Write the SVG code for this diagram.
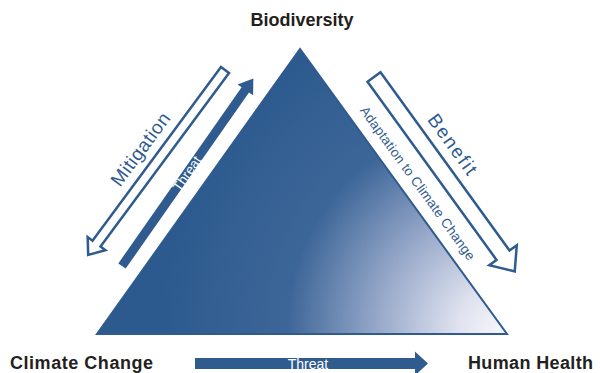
<svg xmlns="http://www.w3.org/2000/svg" width="600" height="373" viewBox="0 0 600 373">
  <defs>
    <radialGradient id="triGrad" gradientUnits="userSpaceOnUse" cx="498" cy="330" r="340">
      <stop offset="0" stop-color="#f4f4fa"/>
      <stop offset="0.12" stop-color="#dfe2ef"/>
      <stop offset="0.35" stop-color="#98a9ca"/>
      <stop offset="0.62" stop-color="#3d6698"/>
      <stop offset="1" stop-color="#2c5a8e"/>
    </radialGradient>
  </defs>
  <style>
    .label { font-family: "Liberation Sans", Arial, sans-serif; font-weight: bold; font-size: 18px; fill: #231f20; }
    .blue { font-family: "Liberation Sans", Arial, sans-serif; fill: #2f5b8f; }
    .white { font-family: "Liberation Sans", Arial, sans-serif; fill: #ffffff; }
    .hollow { fill: #ffffff; stroke: #2f5b8f; stroke-width: 2.5; stroke-linejoin: miter; }
    .solid { fill: #2f5b8f; stroke: none; }
  </style>
  <rect width="600" height="373" fill="#ffffff"/>

  <g id="triangle">
    <polygon points="300,49 97,334 507,334" fill="url(#triGrad)" stroke="#2f5b8f" stroke-width="2"/>
  </g>

  <g id="connectors">
    <g id="mitigation-arrow" transform="translate(225,70) rotate(126.5)">
      <path class="hollow" d="M0,-5 L216,-5 L216,-11 L230,0 L216,11 L216,5 L0,5 Z"/>
    </g>
    <g id="threat-diag-arrow" transform="translate(122,266) rotate(-55)">
      <path class="solid" d="M0,-4.5 L215,-4.5 L215,-9.5 L229,0 L215,9.5 L215,4.5 L0,4.5 Z"/>
      <text class="white" x="113" y="4.8" font-size="13.5" text-anchor="middle">Threat</text>
    </g>
    <g id="benefit-arrow" transform="translate(374,77) rotate(54.1)">
      <path class="hollow" d="M0,-8 L220,-8 L220,-17 L240,0 L220,17 L220,8 L0,8 Z"/>
    </g>
    <g id="threat-bottom-arrow">
      <path class="solid" d="M195,358 H415 V351.5 L428,363.5 L415,375.5 V369 H195 Z"/>
      <text class="white" x="308" y="369" font-size="14" text-anchor="middle">Threat</text>
    </g>
  </g>

  <g id="mitigation-label" transform="translate(140,149) rotate(-53.5)">
    <text class="blue" x="0" y="7" font-size="19" text-anchor="middle" textLength="86">Mitigation</text>
  </g>
  <g id="benefit-label" transform="translate(453,144) rotate(54.1)">
    <text class="blue" x="0" y="7" font-size="19" text-anchor="middle" textLength="70">Benefit</text>
  </g>
  <g id="adaptation-label" transform="translate(418,183) rotate(54.1)">
    <text class="blue" x="0" y="5" font-size="13.5" text-anchor="middle" textLength="186">Adaptation to Climate Change</text>
  </g>

  <g id="node-biodiversity">
    <text class="label" x="302" y="26" text-anchor="middle">Biodiversity</text>
  </g>
  <g id="node-climate-change">
    <text class="label" x="10" y="369" textLength="143">Climate Change</text>
  </g>
  <g id="node-human-health">
    <text class="label" x="468" y="369" textLength="125">Human Health</text>
  </g>
</svg>
